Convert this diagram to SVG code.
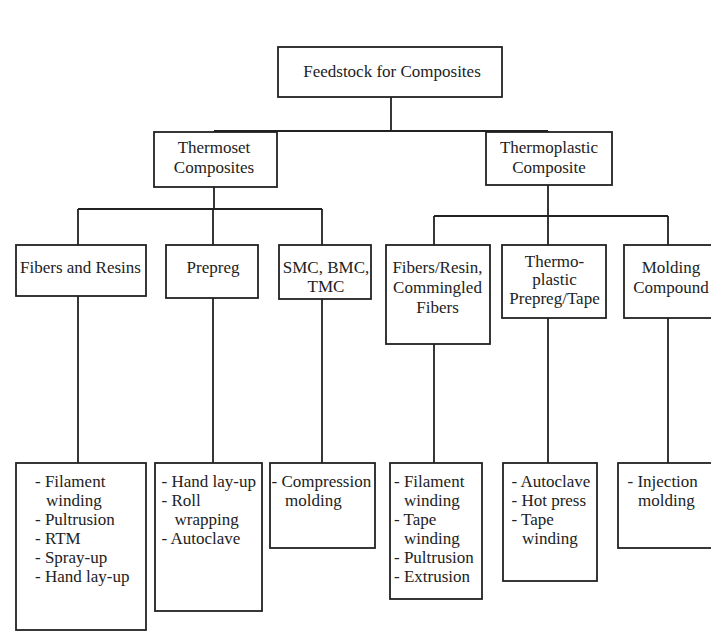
<svg xmlns="http://www.w3.org/2000/svg" width="711" height="635" viewBox="0 0 711 635">
<style>
.box{fill:#fff;stroke:#222;stroke-width:1.8}
.c{fill:none;stroke:#222;stroke-width:1.8}
text{font-family:Liberation Serif, Tinos, Times New Roman, Noto Serif, DejaVu Serif, serif;font-size:17px;fill:#222}
.m{text-anchor:middle}
</style>
<rect width="711" height="635" fill="#fff"/>
<g id="connectors">
<path class="c" d="M391 97V131M214 131H548M214 131V132M548 131V132"/>
<path class="c" d="M214 187V209M78 209H322M78 209V245M213 209V245M322 209V245"/>
<path class="c" d="M548 185V216M434 216H668M434 216V245M548 216V245M668 216V245"/>
<path class="c" d="M78 296V463M213 298V463M322 299V463M434 344V463M548 318V463M668 318V463"/>
</g>
<g id="root"><rect class="box" x="278" y="47" width="224" height="50"/><text class="m" x="392" y="77">Feedstock for Composites</text></g>
<g id="thermoset"><rect class="box" x="154" y="132" width="123" height="55"/><text class="m" x="214" y="153">Thermoset</text><text class="m" x="214" y="172.5">Composites</text></g>
<g id="thermoplastic"><rect class="box" x="486" y="132" width="126" height="53"/><text class="m" x="549" y="152.5">Thermoplastic</text><text class="m" x="549" y="172.5">Composite</text></g>
<g id="fibers-resins"><rect class="box" x="16" y="245" width="130" height="51"/><text class="m" x="80.5" y="273">Fibers and Resins</text></g>
<g id="prepreg"><rect class="box" x="166" y="245" width="92" height="53"/><text class="m" x="213" y="273">Prepreg</text></g>
<g id="smc"><rect class="box" x="279" y="245" width="92" height="54"/><text class="m" x="326" y="273">SMC, BMC,</text><text class="m" x="326" y="291.5">TMC</text></g>
<g id="fibers-resin-commingled"><rect class="box" x="386" y="245" width="104" height="99"/><text class="m" x="437.5" y="273">Fibers/Resin,</text><text class="m" x="437.5" y="293">Commingled</text><text class="m" x="437.5" y="312.5">Fibers</text></g>
<g id="thermoplastic-prepreg"><rect class="box" x="502" y="245" width="104" height="73"/><text class="m" x="554.5" y="266.5">Thermo-</text><text class="m" x="554.5" y="285">plastic</text><text class="m" x="554.5" y="303.5">Prepreg/Tape</text></g>
<g id="molding-compound"><rect class="box" x="624" y="245" width="95" height="73"/><text class="m" x="671" y="273">Molding</text><text class="m" x="671" y="292.5">Compound</text></g>
<g id="proc-fibers-resins"><rect class="box" x="16" y="463" width="130" height="167"/>
<text x="35" y="486.5">- Filament</text><text x="46" y="505.5">winding</text><text x="35" y="524.5">- Pultrusion</text><text x="35" y="543.5">- RTM</text><text x="35" y="562.5">- Spray-up</text><text x="35" y="582">- Hand lay-up</text></g>
<g id="proc-prepreg"><rect class="box" x="155" y="463" width="107" height="148"/>
<text x="161.5" y="486.5">- Hand lay-up</text><text x="161.5" y="505.5">- Roll</text><text x="174.5" y="524.5">wrapping</text><text x="161.5" y="543.5">- Autoclave</text></g>
<g id="proc-smc"><rect class="box" x="270" y="463" width="105" height="85"/>
<text x="271.5" y="486.5">- Compression</text><text x="285" y="505.5">molding</text></g>
<g id="proc-fibers-resin"><rect class="box" x="390" y="463" width="92" height="136"/>
<text x="394" y="486.5">- Filament</text><text x="404" y="505.5">winding</text><text x="394" y="524.5">- Tape</text><text x="404" y="543.5">winding</text><text x="394" y="562.5">- Pultrusion</text><text x="394" y="582">- Extrusion</text></g>
<g id="proc-thermoplastic-prepreg"><rect class="box" x="503" y="463" width="94" height="118"/>
<text x="511.5" y="486.5">- Autoclave</text><text x="511.5" y="505.5">- Hot press</text><text x="511.5" y="524.5">- Tape</text><text x="522" y="543.5">winding</text></g>
<g id="proc-molding"><rect class="box" x="618" y="463" width="100" height="85"/>
<text x="627.5" y="486.5">- Injection</text><text x="638" y="505.5">molding</text></g>
</svg>
